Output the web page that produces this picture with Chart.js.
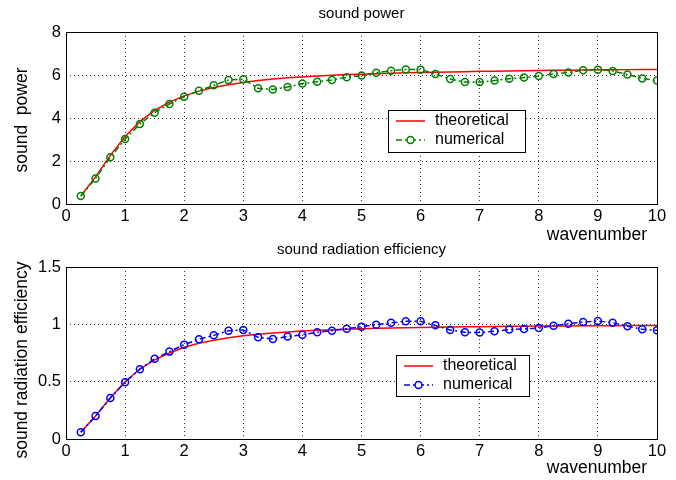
<!DOCTYPE html>
<html>
<head>
<meta charset="utf-8">
<script src="https://cdn.jsdelivr.net/npm/chart.js@4"></script>
<style>
  html, body { margin: 0; padding: 0; background: #fff; }
  .panel { position: absolute; left: 0; width: 676px; height: 240px; }
</style>
</head>
<body>
<div class="panel" style="top:0"><canvas id="power" width="676" height="240"></canvas></div>
<div class="panel" style="top:240px"><canvas id="eff" width="676" height="240"></canvas></div>
<script>
// wavenumber samples
var wavenumber = [0.25, 0.5, 0.75, 1, 1.25, 1.5, 1.75, 2, 2.25, 2.5, 2.75, 3, 3.25, 3.5, 3.75, 4,
  4.25, 4.5, 4.75, 5, 5.25, 5.5, 5.75, 6, 6.25, 6.5, 6.75, 7, 7.25, 7.5, 7.75, 8,
  8.25, 8.5, 8.75, 9, 9.25, 9.5, 9.75, 10]

// sound power
var powerTheory = [0.37, 1.26, 2.26, 3.14, 3.83, 4.35, 4.74, 5.03, 5.25, 5.42, 5.55, 5.65, 5.74, 5.81, 5.87, 5.91,
  5.95, 5.99, 6.02, 6.04, 6.06, 6.08, 6.10, 6.12, 6.13, 6.14, 6.15, 6.17, 6.18, 6.19, 6.20, 6.21,
  6.22, 6.22, 6.23, 6.24, 6.24, 6.25, 6.26, 6.26]
var powerNum = [0.37, 1.19, 2.17, 3.02, 3.72, 4.25, 4.65, 4.99, 5.27, 5.52, 5.77, 5.8, 5.38, 5.33, 5.44, 5.6,
  5.69, 5.77, 5.89, 5.98, 6.11, 6.2, 6.26, 6.25, 6.05, 5.81, 5.67, 5.67, 5.74, 5.83, 5.88, 5.95,
  6.05, 6.12, 6.22, 6.25, 6.19, 6.02, 5.84, 5.74]

// sound radiation efficiency
var effTheory = [0.06, 0.2, 0.36, 0.5, 0.61, 0.69, 0.75, 0.8, 0.835, 0.862, 0.883, 0.9, 0.914, 0.925, 0.934, 0.941,
  0.948, 0.953, 0.958, 0.962, 0.965, 0.968, 0.971, 0.973, 0.975, 0.977, 0.979, 0.98, 0.981, 0.983, 0.984, 0.985,
  0.986, 0.986, 0.987, 0.988, 0.988, 0.989, 0.99, 0.99]
var effNum = [0.058, 0.2, 0.357, 0.496, 0.609, 0.699, 0.762, 0.823, 0.87, 0.904, 0.945, 0.951, 0.887, 0.872, 0.893, 0.91,
  0.93, 0.945, 0.962, 0.98, 0.997, 1.014, 1.026, 1.026, 0.991, 0.951, 0.93, 0.928, 0.939, 0.954, 0.959, 0.968,
  0.988, 1.006, 1.02, 1.029, 1.014, 0.983, 0.957, 0.948]

var xTicks = [0, 1, 2, 3, 4, 5, 6, 7, 8, 9, 10]
var powerTicks = [0, 2, 4, 6, 8]
var effTicks = [0, 0.5, 1, 1.5]
var seriesNames = ['theoretical', 'numerical']

var FONT = '"Liberation Sans", Arial, Helvetica, sans-serif'

function pts(ys) {
  return wavenumber.map(function (k, i) { return { x: k, y: ys[i] } })
}

// frame, titles, axis labels and the boxed legend
var decor = {
  id: 'decor',
  afterDraw: function (chart) {
    var o = chart.options.plugins.decor
    var ctx = chart.ctx
    var a = chart.chartArea
    ctx.save()
    ctx.strokeStyle = '#000'
    ctx.lineWidth = 1
    ctx.setLineDash([])
    ctx.strokeRect(Math.round(a.left) + 0.5, Math.round(a.top) + 0.5,
      Math.round(a.right - a.left), Math.round(a.bottom - a.top))

    ctx.fillStyle = '#000'
    ctx.font = '15px ' + FONT
    ctx.textAlign = 'center'
    ctx.textBaseline = 'middle'
    ctx.fillText(o.title, (a.left + a.right) / 2, o.titleY)

    ctx.font = '17.5px ' + FONT
    ctx.textAlign = 'right'
    ctx.fillText('wavenumber', 647, o.xLabelY)

    ctx.save()
    ctx.translate(22, o.yLabelY)
    ctx.rotate(-Math.PI / 2)
    ctx.textAlign = 'center'
    ctx.fillText(o.yLabel, 0, 0)
    ctx.restore()

    // legend
    var L = o.legend
    ctx.fillStyle = '#fff'
    ctx.fillRect(L.x, L.y, L.w, L.h)
    ctx.strokeStyle = '#000'
    ctx.strokeRect(L.x + 0.5, L.y + 0.5, L.w, L.h)
    var ds = chart.data.datasets
    var rows = [ds[1], ds[0]]
    rows.forEach(function (d, i) {
      var y = L.y + 11 + i * 19
      var x0 = L.x + 8, x1 = L.x + 37
      ctx.strokeStyle = d.borderColor
      ctx.lineWidth = d.borderWidth
      ctx.setLineDash(d.borderDash || [])
      ctx.beginPath()
      ctx.moveTo(x0, y)
      ctx.lineTo(x1, y)
      ctx.stroke()
      ctx.setLineDash([])
      if (d.pointRadius > 0) {
        ctx.lineWidth = d.pointBorderWidth
        ctx.beginPath()
        ctx.arc((x0 + x1) / 2, y, d.pointRadius, 0, Math.PI * 2)
        ctx.fillStyle = '#fff'
        ctx.fill()
        ctx.stroke()
      }
      ctx.fillStyle = '#000'
      ctx.font = '16px ' + FONT
      ctx.textAlign = 'left'
      ctx.fillText(d.label, L.x + 47, y)
    })
    ctx.restore()
  }
}

function makeChart(id, theory, num, color, yMax, yTicks, cfg) {
  return new Chart(document.getElementById(id), {
    type: 'line',
    data: {
      datasets: [
        { label: seriesNames[1], data: pts(num), order: 0, borderColor: color, borderWidth: 1.5,
          borderDash: [6, 3, 2, 3], pointRadius: 3.5, pointBorderWidth: 1.5,
          pointBackgroundColor: 'rgba(255,255,255,0)', pointBorderColor: color },
        { label: seriesNames[0], data: pts(theory), order: 1, borderColor: '#ff0000', borderWidth: 1.5,
          pointRadius: 0 }
      ]
    },
    options: {
      responsive: false,
      animation: false,
      devicePixelRatio: 1,
      layout: { padding: { top: cfg.top, right: 19, left: 0, bottom: 0 } },
      plugins: {
        legend: { display: false },
        tooltip: { enabled: false },
        decor: cfg
      },
      scales: {
        x: {
          type: 'linear', min: 0, max: 10,
          afterFit: function (s) { s.height = cfg.xHeight },
          afterBuildTicks: function (s) { s.ticks = xTicks.map(function (v) { return { value: v } }) },
          grid: { color: '#333', drawTicks: false, lineWidth: 1 },
          border: { display: false, dash: [1, 3] },
          ticks: { color: '#000', padding: 3, font: { family: FONT, size: 16.5 },
            callback: function (v) { return String(v) } }
        },
        y: {
          min: 0, max: yMax,
          afterFit: function (s) { s.width = 66 },
          afterBuildTicks: function (s) { s.ticks = yTicks.map(function (v) { return { value: v } }) },
          grid: { color: '#333', drawTicks: false, lineWidth: 1 },
          border: { display: false, dash: [1, 3] },
          ticks: { color: '#000', padding: 5, font: { family: FONT, size: 16.5 },
            callback: function (v) { return String(v) } }
        }
      }
    },
    plugins: [decor]
  })
}

makeChart('power', powerTheory, powerNum, '#008000', 8, powerTicks, {
  top: 32, xHeight: 36, title: 'sound power', titleY: 14, xLabelY: 235,
  yLabel: 'sound  power', yLabelY: 120,
  legend: { x: 388, y: 110, w: 137, h: 42 }
})
makeChart('eff', effTheory, effNum, '#0000ff', 1.5, effTicks, {
  top: 27, xHeight: 41, title: 'sound radiation efficiency', titleY: 10, xLabelY: 228,
  yLabel: 'sound radiation efficiency', yLabelY: 120,
  legend: { x: 396, y: 115, w: 133, h: 41 }
})
</script>
</body>
</html>
